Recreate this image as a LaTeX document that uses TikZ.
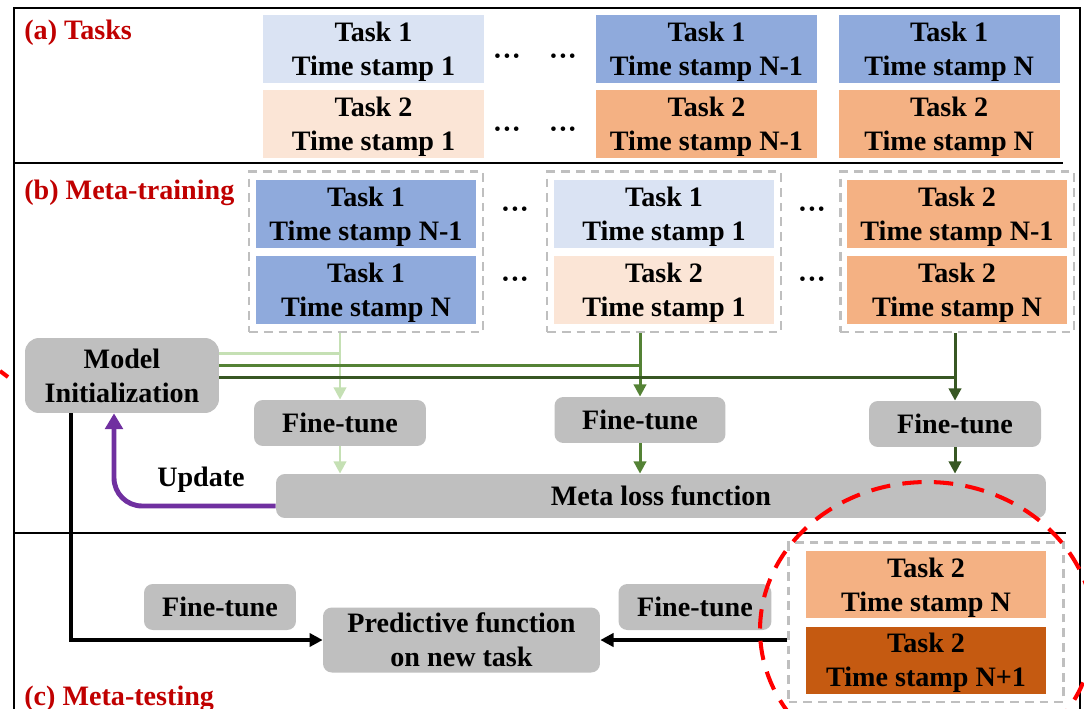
\documentclass[tikz,border=0pt]{standalone}
\usepackage{fontspec}
\setmainfont{Liberation Serif}
\usetikzlibrary{arrows.meta, positioning, calc, fit}
\definecolor{lblue}{HTML}{DAE3F3}
\definecolor{mblue}{HTML}{8FAADC}
\definecolor{lorange}{HTML}{FBE5D6}
\definecolor{morange}{HTML}{F4B183}
\definecolor{dorange}{HTML}{C55A11}
\definecolor{boxgray}{HTML}{BFBFBF}
\definecolor{title-red}{HTML}{C00000}
\definecolor{green-l}{HTML}{C5E0B4}
\definecolor{green-m}{HTML}{548235}
\definecolor{green-d}{HTML}{385723}
\definecolor{upd-purple}{HTML}{7030A0}
\newcommand{\boxfont}{\fontsize{16}{19.4}\selectfont\bfseries}
\newcommand{\middots}{\textperiodcentered\textperiodcentered\textperiodcentered}

\begin{document}
\begin{tikzpicture}[x=0.02cm, y=0.02cm,
    task/.style={minimum width=4.42cm, minimum height=1.36cm, inner sep=0pt, text depth=0pt, align=center, font=\boxfont},
    gbox/.style={fill=boxgray, rounded corners=5pt, inner sep=0pt, align=center, font=\boxfont},
    group/.style={draw=boxgray, line width=1.5pt, dash pattern=on 5pt off 3.4pt, inner xsep=0.12cm, inner ysep=0.16cm},
    sec/.style={anchor=base west, inner sep=0pt, text=title-red, font=\boxfont},
    ellip/.style={inner sep=0pt, font=\boxfont},
    feed/.style={line width=1.7pt},
    flow/.style={feed, -{Triangle[length=7pt, width=7pt]}},
    border/.style={line width=1.2pt},
    focus/.style={draw=red, line width=2.3pt, dash pattern=on 11pt off 7pt}
]
    \useasboundingbox (0,0) rectangle (1084,-709);
    \clip (0,0) rectangle (1084,-709);

    % frame and section rules
    \draw[border] (14,-712) -- (14,-8) -- (1080,-8) -- (1080,-712);
    \draw[border] (14,-163) -- (1063,-163);
    \draw[border] (14,-533) -- (1066,-533);

    \node[sec] (lab-a) at (24,-40) {(a) Tasks};
    \node[sec] (lab-b) at (24,-200) {(b) Meta-training};
    \node[sec] (lab-c) at (24,-705) {(c) Meta-testing};

    % (a) tasks
    \node[task, fill=lblue] (a11) at (373.5,-49) {Task 1\\Time stamp 1};
    \node[task, fill=lorange, below=0.12cm of a11] (a21) {Task 2\\Time stamp 1};
    \node[task, fill=mblue] (a1m) at (706.5,-49) {Task 1\\Time stamp N-1};
    \node[task, fill=morange, below=0.12cm of a1m] (a2m) {Task 2\\Time stamp N-1};
    \node[task, fill=mblue, right=0.42cm of a1m] (a1n) {Task 1\\Time stamp N};
    \node[task, fill=morange, below=0.12cm of a1n] (a2n) {Task 2\\Time stamp N};
    \node[ellip] (da1) at (507,-60) {\middots};
    \node[ellip] (da2) at (563,-60) {\middots};
    \node[ellip] (da3) at (507,-133) {\middots};
    \node[ellip] (da4) at (563,-133) {\middots};

    % (b) meta-training
    \node[task, fill=mblue] (b11) at (366,-214) {Task 1\\Time stamp N-1};
    \node[task, fill=mblue, below=0.14cm of b11] (b12) {Task 1\\Time stamp N};
    \node[task, fill=lblue] (b21) at (664,-214) {Task 1\\Time stamp 1};
    \node[task, fill=lorange, below=0.14cm of b21] (b22) {Task 2\\Time stamp 1};
    \node[task, fill=morange] (b31) at (957,-214) {Task 2\\Time stamp N-1};
    \node[task, fill=morange, below=0.14cm of b31] (b32) {Task 2\\Time stamp N};
    \node[group, fit=(b11)(b12)] (g1) {};
    \node[group, fit=(b21)(b22)] (g2) {};
    \node[group, fit=(b31)(b32)] (g3) {};
    \node[ellip] (db1) at (515,-213) {\middots};
    \node[ellip] (db2) at (515,-283) {\middots};
    \node[ellip] (db3) at (812,-213) {\middots};
    \node[ellip] (db4) at (812,-283) {\middots};

    \node[gbox, rounded corners=8pt, minimum width=3.88cm, minimum height=1.5cm] (init) at (122,-375.5) {Model\\Initialization};
    \node[gbox, minimum width=3.44cm, minimum height=0.92cm] (ft1) at (340,-423) {Fine-tune};
    \node[gbox, minimum width=3.42cm, minimum height=0.92cm] (ft2) at (640,-420) {Fine-tune};
    \node[gbox, minimum width=3.44cm, minimum height=0.92cm] (ft3) at (955,-424) {Fine-tune};
    \node[gbox, minimum width=15.4cm, minimum height=0.88cm] (meta) at (661,-496) {Meta loss function};
    \node[ellip] (upd) at (201,-480) {Update};

    \coordinate (h1) at ($(init.east)+(0,22)$);
    \coordinate (h2) at ($(init.east)+(0,10)$);
    \coordinate (h3) at ($(init.east)+(0,-2)$);
    \draw[feed, green-l] (h1) -- (h1 -| ft1.north);
    \draw[flow, green-l] (g1.south -| ft1.north) -- (ft1.north);
    \draw[flow, green-l] (ft1.south) -- (ft1.south |- meta.north);
    \draw[feed, green-m] (h2) -- (h2 -| ft2.north);
    \draw[flow, green-m] (g2.south -| ft2.north) -- (ft2.north);
    \draw[flow, green-m] (ft2.south) -- (ft2.south |- meta.north);
    \draw[feed, green-d] (h3) -- (h3 -| ft3.north);
    \draw[flow, green-d] (g3.south -| ft3.north) -- (ft3.north);
    \draw[flow, green-d] (ft3.south) -- (ft3.south |- meta.north);

    \draw[upd-purple, line width=2.8pt, rounded corners=16pt, -{Triangle[length=9pt, width=10pt]}]
        ($(meta.west)+(0,-10)$) -| ($(init.south)+(-8,0)$);

    % (c) meta-testing
    \node[task, fill=morange, minimum width=4.8cm, minimum height=1.34cm] (c1) at (926,-584.5) {Task 2\\Time stamp N};
    \node[task, fill=dorange, minimum width=4.8cm, minimum height=1.34cm, below=0.16cm of c1] (c2) {Task 2\\Time stamp N+1};
    \node[group, inner xsep=0.34cm, fit=(c1)(c2)] (gc) {};
    \node[gbox, minimum width=3.04cm, minimum height=0.92cm] (ftl) at (220,-607) {Fine-tune};
    \node[gbox, minimum width=3.06cm, minimum height=0.92cm] (ftr) at (695,-607) {Fine-tune};
    \node[gbox, minimum width=5.54cm, minimum height=1.3cm] (pred) at (461.5,-640) {Predictive function\\on new task};

    \draw[line width=2pt, -{Triangle[length=7.5pt, width=7.5pt]}] ($(init.south)+(-51,0)$) |- (pred.west);
    \draw[line width=2pt, -{Triangle[length=7.5pt, width=7.5pt]}] (gc.west |- pred.east) -- (pred.east);

    % highlight
    \draw[focus] (927,-630) ellipse [x radius=3.34cm, y radius=2.96cm];
    \draw[focus] (0,-371) -- (8,-377);
\end{tikzpicture}
\end{document}
